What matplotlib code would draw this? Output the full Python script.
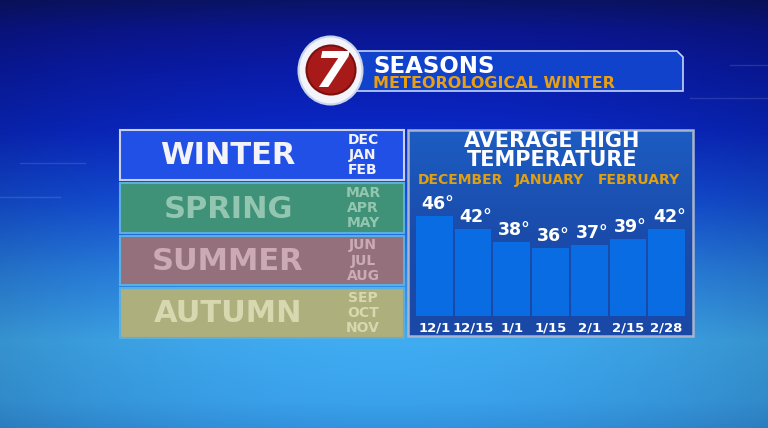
import matplotlib.pyplot as plt
import numpy as np
from matplotlib.patches import Rectangle, Ellipse, Circle, Polygon
from matplotlib.colors import LinearSegmentedColormap, to_rgb

# chart data
dates = ['12/1', '12/15', '1/1', '1/15', '2/1', '2/15', '2/28']
avg_high = [46, 42, 38, 36, 37, 39, 42]
month_names = ['DECEMBER', 'JANUARY', 'FEBRUARY']

# season boxes
seasons = ['WINTER', 'SPRING', 'SUMMER', 'AUTUMN']
season_months = [['DEC', 'JAN', 'FEB'], ['MAR', 'APR', 'MAY'],
                 ['JUN', 'JUL', 'AUG'], ['SEP', 'OCT', 'NOV']]
season_fill = ['#2150e6', '#3f9177', '#93707c', '#adaf7c']
season_text = ['#f4f4f8', '#92c6b0', '#cbaab6', '#d8d8b0']
season_edge = ['#c8d0ee', '#5aaee0', '#5aaee0', '#5aaee0']

W, H = 768, 428
fig = plt.figure(figsize=(7.68, 4.28), dpi=100)

# background axes in pixel coords (y down)
bg = fig.add_axes([0, 0, 1, 1])
bg.set_xlim(0, W)
bg.set_ylim(H, 0)
bg.axis('off')

stops = [(0, '#0a1466'), (30, '#0b1690'), (70, '#0a1caa'), (130, '#0a28c6'),
         (200, '#1450dc'), (270, '#2a84e8'), (340, '#40acf2'),
         (400, '#3aa2ec'), (428, '#3392de')]
ys = np.arange(H)
col = np.zeros((H, 3))
for k in range(3):
    col[:, k] = np.interp(ys, [s[0] for s in stops], [to_rgb(s[1])[k] for s in stops])
xs = (np.arange(W) - 384) / 384
shade = 1 - 0.15 * xs ** 2
img = col[:, None, :] * shade[None, :, None]
bg.imshow(np.clip(img, 0, 1), extent=(0, W, H, 0), aspect='auto', zorder=0)

# a few faint decoration lines
for y0, x0, x1 in [(98, 690, 768), (65, 730, 768), (197, 0, 60), (163, 20, 85)]:
    bg.plot([x0, x1], [y0, y0], color='white', alpha=0.12, lw=1, zorder=1)

# header banner
banner = Polygon([(352, 51), (677, 51), (683, 57), (683, 91), (352, 91)],
                 closed=True, facecolor='#1142cc', edgecolor='#c4d4f4', lw=1.2, zorder=2)
bg.add_patch(banner)
bg.text(373, 72.5, 'SEASONS', color='white', fontsize=16.5, fontweight='bold',
        ha='left', va='baseline', zorder=5)
bg.text(373, 88, 'METEOROLOGICAL WINTER', color='#e8a012', fontsize=11.5,
        fontweight='bold', ha='left', va='baseline', zorder=5)

# logo
bg.add_patch(Ellipse((330.5, 70.5), 64, 68, facecolor='#f2f4fa', edgecolor='#c8d4ec',
                     lw=1.5, zorder=3))
bg.add_patch(Circle((331, 70), 24.5, facecolor='#a81a1a', edgecolor='#7c0e0e',
                    lw=1.5, zorder=4))
bg.text(331, 73, '7', color='white', fontsize=36, fontweight='bold', style='italic',
        ha='center', va='center', zorder=5)

# season boxes
box_top = [130, 183, 236, 288]
box_h = [50, 50, 49, 50]
for i, name in enumerate(seasons):
    y0 = box_top[i]
    bg.add_patch(Rectangle((120, y0), 284, box_h[i], facecolor=season_fill[i],
                           edgecolor=season_edge[i], lw=1.5, zorder=2))
    yc = y0 + box_h[i] / 2
    bg.text(228, yc + 1, name, color=season_text[i], fontsize=22, fontweight='bold',
            ha='center', va='center', zorder=3)
    for j, m in enumerate(season_months[i]):
        bg.text(363, yc + (j - 1) * 15.2, m, color=season_text[i], fontsize=10,
                fontweight='bold', ha='center', va='center', zorder=3)

# chart panel
panel_grad = np.linspace(0, 1, 100)[:, None]
pcmap = LinearSegmentedColormap.from_list('panel', ['#1d5cc2', '#1a4cab', '#1a48a6'])
bg.imshow(panel_grad, cmap=pcmap, extent=(408, 693, 336, 130), aspect='auto', zorder=2)
bg.add_patch(Rectangle((408, 130), 285, 206, facecolor='none', edgecolor='#a8b4cc',
                       lw=1.8, zorder=3))
bg.text(552, 141, 'AVERAGE HIGH', color='white', fontsize=15, fontweight='bold',
        ha='center', va='center', zorder=4)
bg.text(552, 160, 'TEMPERATURE', color='white', fontsize=15, fontweight='bold',
        ha='center', va='center', zorder=4)
for name, xc in zip(month_names, [460, 549, 639]):
    bg.text(xc, 179.5, name, color='#e0a010', fontsize=10, fontweight='bold',
            ha='center', va='center', zorder=4)

# bar chart axes placed over the panel
ymin, ymax = 14.8, 50
left_px, bot_px, w_px = 415, 316, 271
h_px = (ymax - ymin) * 3.2
ax = fig.add_axes([left_px / W, (H - bot_px) / H, w_px / W, h_px / H])
ax.patch.set_alpha(0)
x = np.arange(len(dates))
ax.bar(x, avg_high, width=0.95, color='#0a6ce2', zorder=2)
ax.set_xlim(-0.5, len(dates) - 0.5)
ax.set_ylim(ymin, ymax)
for s in ax.spines.values():
    s.set_visible(False)
ax.set_yticks([])
ax.set_xticks(x)
ax.set_xticklabels(dates, color='white', fontsize=9.5, fontweight='bold')
ax.tick_params(axis='x', length=0, pad=4)
for xi, v in zip(x, avg_high):
    ax.annotate(f'{v}°', (xi, v), xytext=(2, 2), textcoords='offset points',
                ha='center', va='bottom', color='white', fontsize=12.5,
                fontweight='bold')

fig.savefig('out.png', dpi=100)
